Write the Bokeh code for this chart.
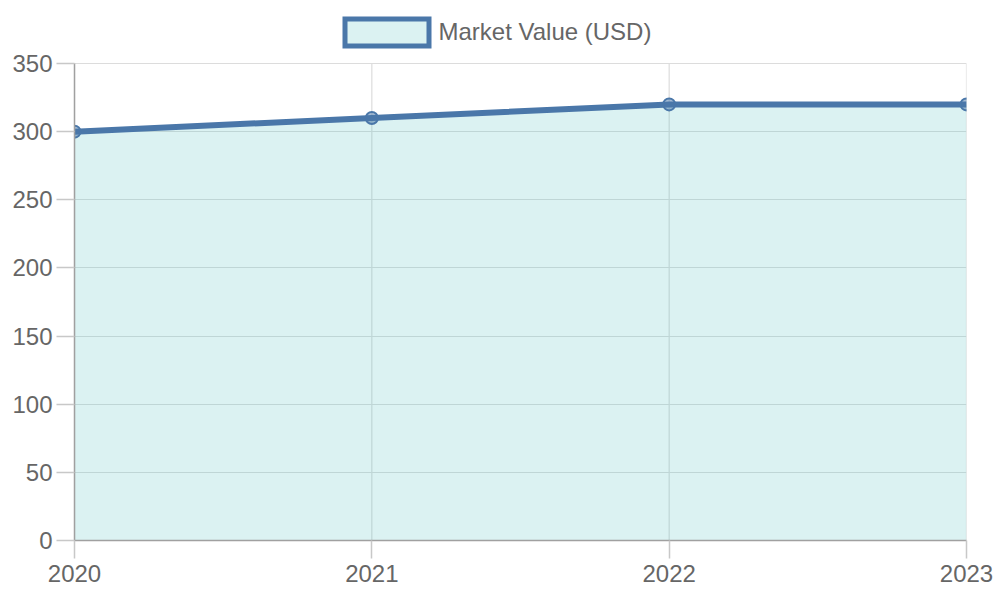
from bokeh.plotting import figure
from bokeh.models import ColumnDataSource, Legend, LegendItem, FixedTicker, Range1d
from bokeh.embed import file_html
from bokeh.resources import INLINE

years = [2020, 2021, 2022, 2023]
market_value = [300, 310, 320, 320]
series_name = "Market Value (USD)"
y_ticks = [0, 50, 100, 150, 200, 250, 300, 350]

LINE = "#4a77a9"
FILL = "rgba(75,192,192,0.2)"
FONT = "Liberation Sans"
GRID = "#dcdcdc"

Y_MAX = y_ticks[-1]
# frame spans whole top area; the value axis covers 0..350 over the lower 477 px
Y_TOP = Y_MAX * 540 / 477

src = ColumnDataSource(dict(x=years, y=market_value, zero=[0] * len(years),
                            top=[Y_MAX] * len(years)))

p = figure(width=1000, height=600, output_backend="svg", toolbar_location=None,
           x_range=Range1d(2020, 2023), y_range=Range1d(0, Y_TOP),
           min_border_left=74, min_border_right=34, min_border_top=0, min_border_bottom=60)

# vertical grid lines limited to the value range
p.segment(x0="x", y0="zero", x1="x", y1="top", source=src, line_color=GRID,
          line_width=1.2, level="underlay")

p.varea(x="x", y1="zero", y2="y", source=src, fill_color=FILL)
p.line(x="x", y="y", source=src, line_color=LINE, line_width=6)
p.scatter(x="x", y="y", source=src, size=12, fill_color=LINE, fill_alpha=0.5,
          line_color=LINE, line_width=2)

# legend proxy: zero-size boxes (invisible on the plot) that give the legend its swatch
proxy = p.quad(left="x", right="x", top="zero", bottom="zero", source=src,
               fill_color=FILL, line_color=LINE, line_width=5, line_cap="butt",
               line_join="miter")

legend = Legend(items=[LegendItem(label=series_name, renderers=[proxy])],
                location=(259.5, 491.5), glyph_width=105, glyph_height=34,
                label_text_font=FONT, label_text_font_size="24px",
                label_text_color="#666666", label_standoff=0,
                padding=0, margin=0, spacing=0,
                border_line_color=None, background_fill_alpha=0)
p.add_layout(legend, "center")

p.xaxis.ticker = FixedTicker(ticks=years)
p.yaxis.ticker = FixedTicker(ticks=y_ticks)
p.xaxis.major_label_overrides = {y: str(y) for y in years}
p.yaxis.bounds = (0, Y_MAX)

for ax in (p.xaxis, p.yaxis):
    ax.major_label_text_font = FONT
    ax.major_label_text_font_size = "24px"
    ax.major_label_text_color = "#666666"
    ax.axis_line_color = "#a0a0a0"
    ax.axis_line_width = 1.5
    ax.major_tick_line_color = "#c8c8c8"
    ax.major_tick_line_width = 1.5
    ax.major_tick_out = 18
    ax.major_tick_in = 0
    ax.minor_tick_out = 0
    ax.minor_tick_in = 0
p.xaxis.major_label_standoff = 6
p.yaxis.major_label_standoff = 4

p.xgrid.visible = False
p.ygrid.grid_line_color = GRID
p.ygrid.grid_line_width = 1.2
p.outline_line_color = None
p.background_fill_color = "white"
p.border_fill_color = "white"

open("out.html", "w").write(file_html(p, INLINE))
